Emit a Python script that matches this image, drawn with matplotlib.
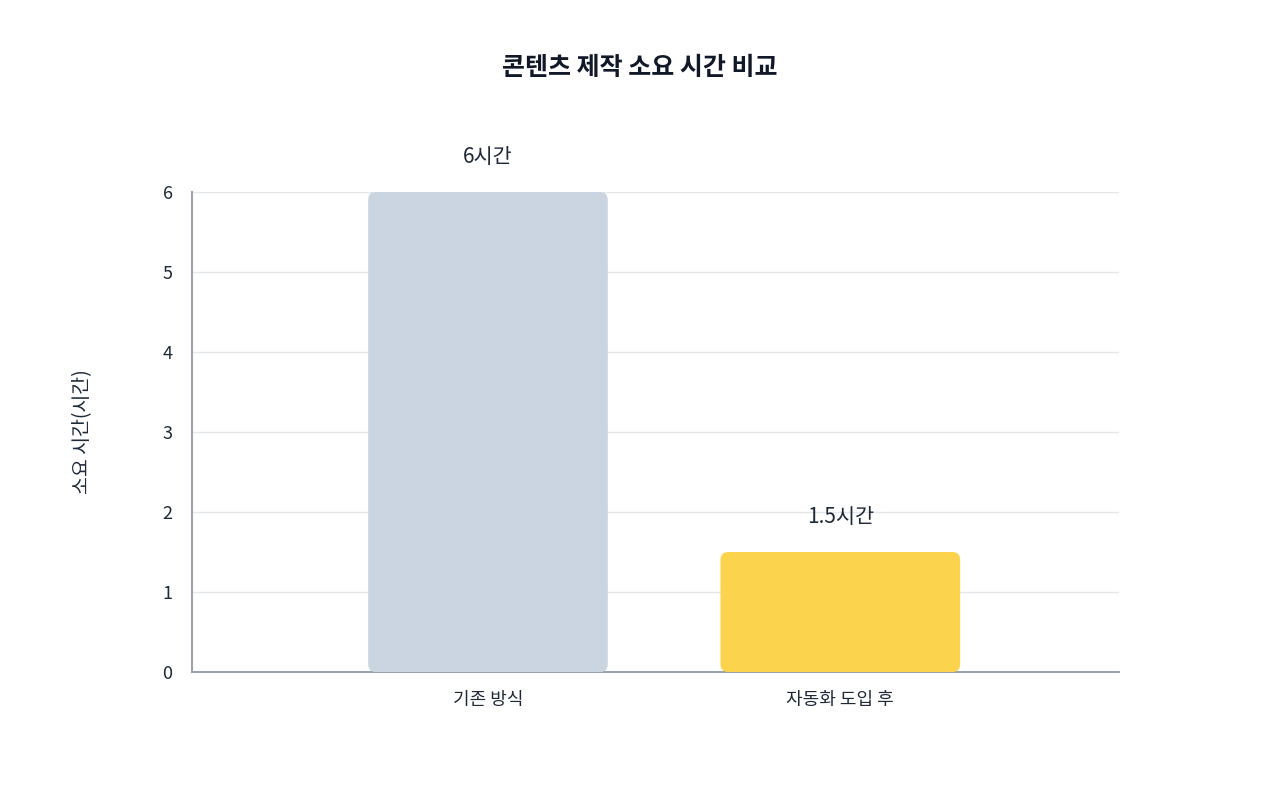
import matplotlib
matplotlib.use("Agg")
import matplotlib.pyplot as plt
from matplotlib.patches import FancyBboxPatch

plt.rcParams['font.family'] = ['Noto Sans CJK KR', 'DejaVu Sans']

categories = ["기존 방식", "자동화 도입 후"]
values = [6, 1.5]
labels = ["6시간", "1.5시간"]
colors = ["#CBD5E1", "#FCD34D"]

fig = plt.figure(figsize=(12.8, 8), dpi=100)
ax = fig.add_axes([0.15, 0.16, 0.724, 0.60])
ax.set_xlim(-0.84, 1.79)
ax.set_ylim(0, 6)
w = 0.68
aspect = (6 / 480) * 352
for i, (v, c, l) in enumerate(zip(values, colors, labels)):
    p = FancyBboxPatch((i - w / 2, 0), w, v, boxstyle="round,pad=0,rounding_size=0.022",
                       mutation_aspect=aspect, fc=c, ec="none", zorder=3)
    ax.add_patch(p)
    ax.text(i, v + 0.3, l, ha="center", va="bottom", fontsize=15, color="#1f2937")
ax.set_xticks(range(len(categories)))
ax.set_xticklabels(categories, fontsize=13, color="#1f2937")
ax.set_yticks(range(0, 7))
ax.tick_params(axis='y', labelsize=13, colors="#1f2937", length=0, pad=14)
ax.tick_params(axis='x', length=0, pad=14)
ax.grid(axis='y', color="#e5e7eb", lw=1, zorder=0)
for s in ["top", "right"]:
    ax.spines[s].set_visible(False)
for s in ["left", "bottom"]:
    ax.spines[s].set_color("#9ca3af")
    ax.spines[s].set_linewidth(1.5)
ax.set_ylabel("소요 시간(시간)", fontsize=14, color="#1f2937", labelpad=50)
fig.text(0.5, 0.915, "콘텐츠 제작 소요 시간 비교", ha="center", va="center",
         fontsize=18, fontweight="bold", color="#111827")
fig.savefig("out.png", dpi=100, facecolor="white")
